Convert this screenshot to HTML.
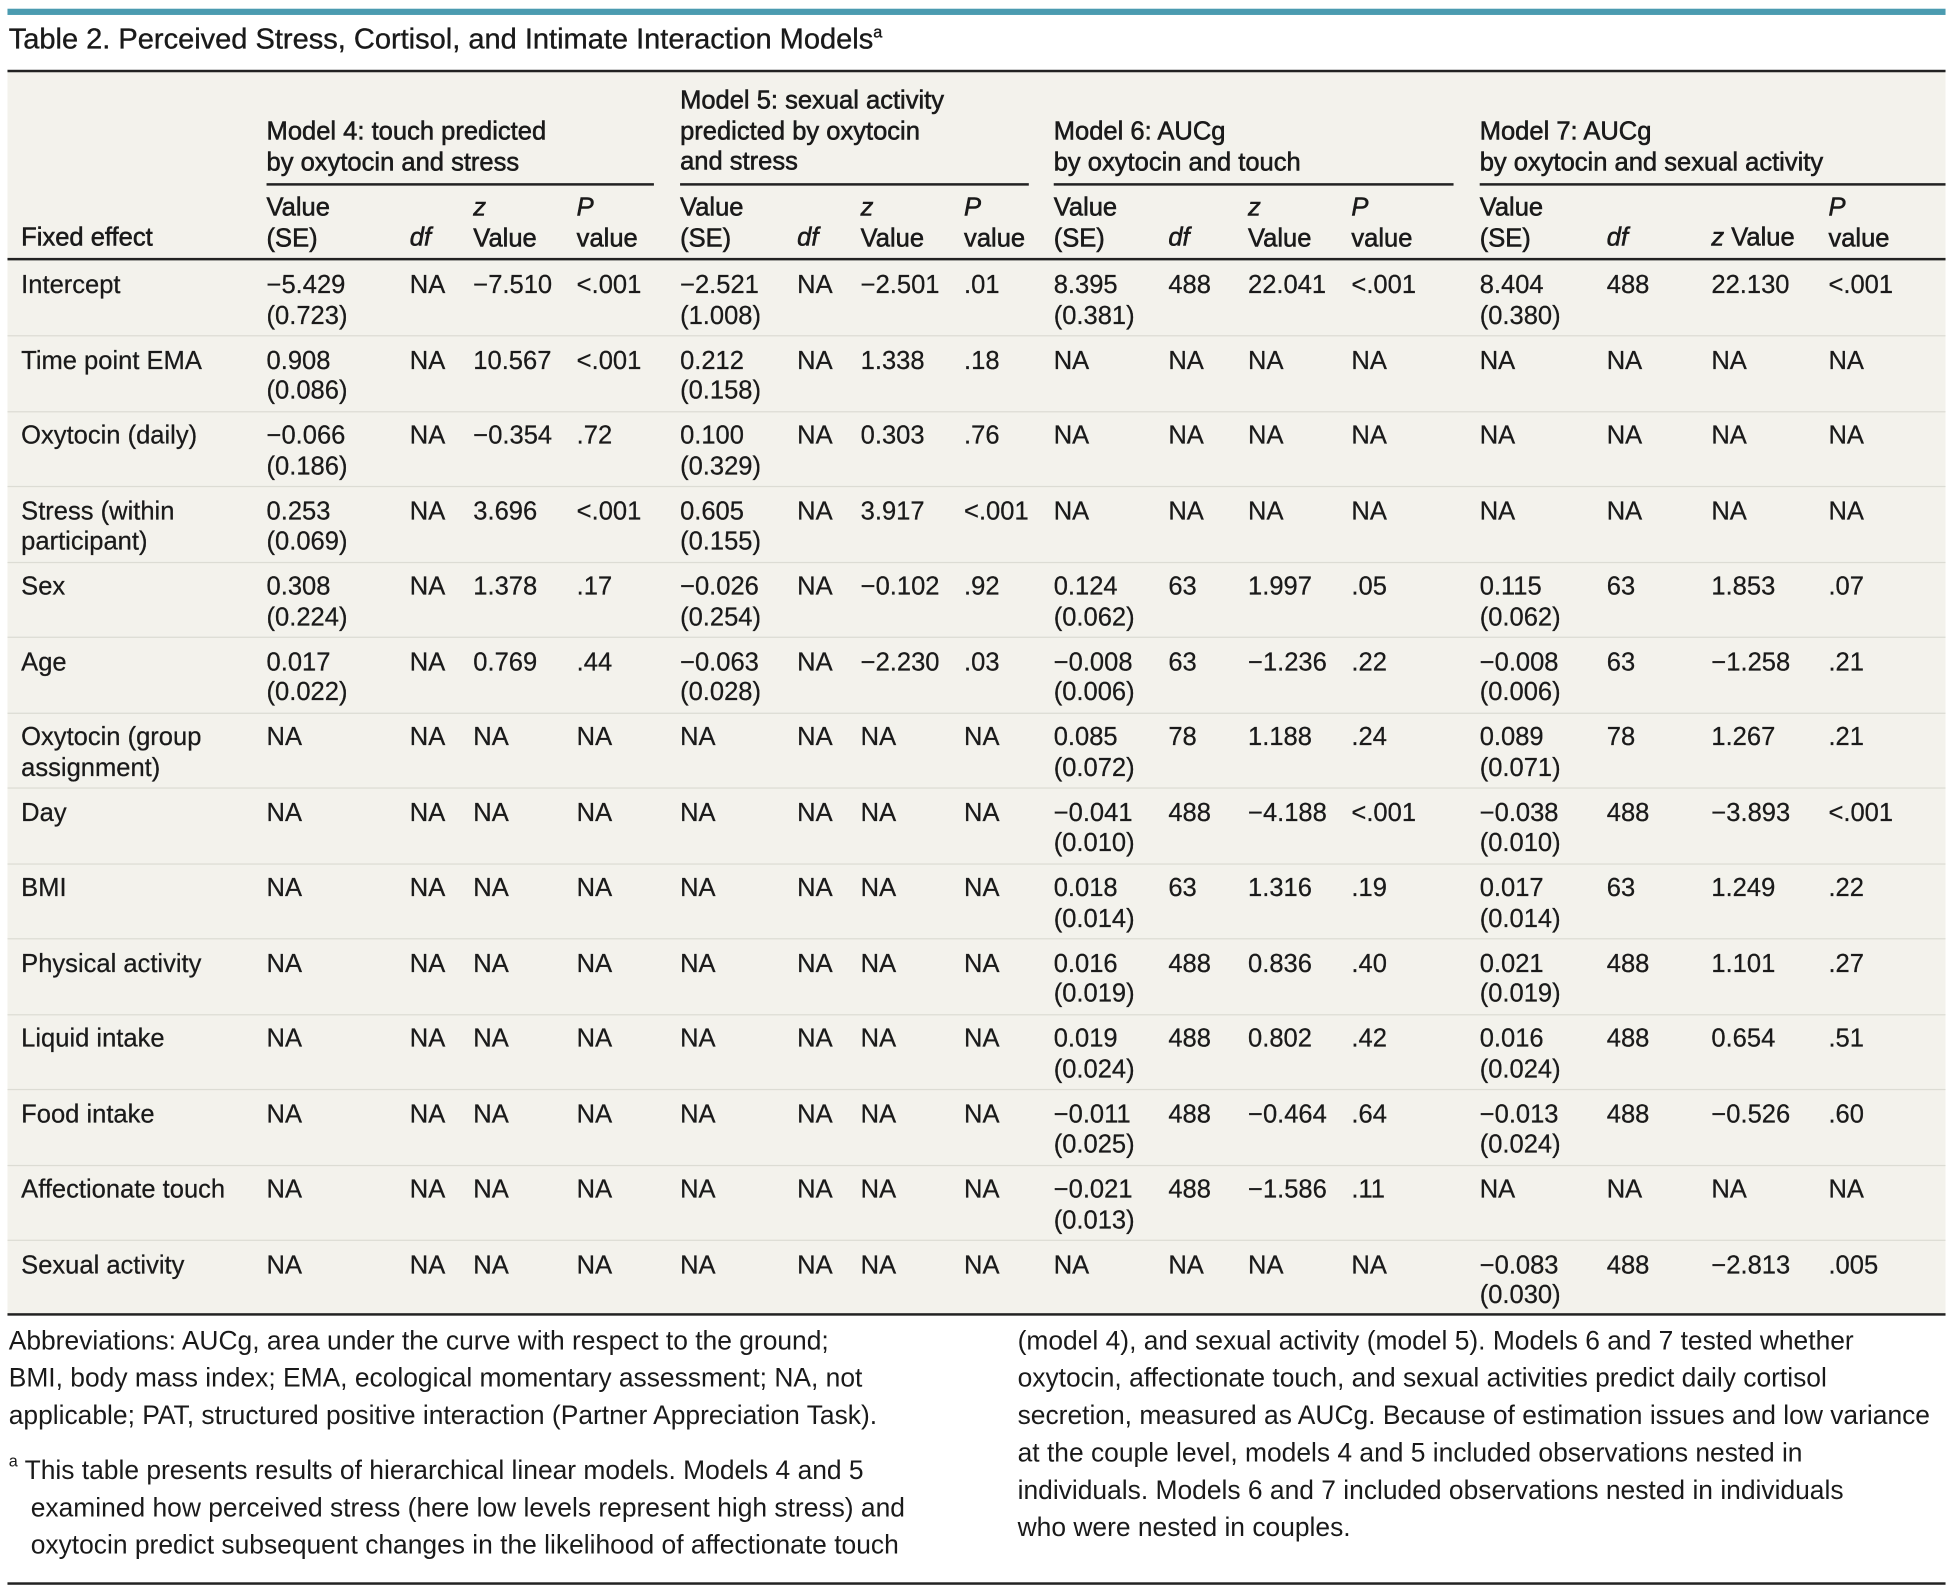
<!DOCTYPE html>
<html><head><meta charset="utf-8">
<style>
html,body{margin:0;padding:0;background:#fff;}
body{width:1953px;height:1591px;overflow:hidden;}
#w{position:absolute;left:0;top:0;width:1568px;height:1277px;transform:scale(1.24554,1.2459);transform-origin:0 0;font-family:"Liberation Sans",sans-serif;color:#1a1a1a;}
.a{position:absolute;white-space:pre;}
.bar{position:absolute;left:6px;top:7px;width:1556px;height:5px;background:#4b9bb0;}
.title{left:7px;top:18px;font-size:23.3px;-webkit-text-stroke:0.3px #1a1a1a;}
.bg{position:absolute;left:6px;top:57px;width:1556px;height:998px;background:#f3f2ec;}
.rule{position:absolute;height:2px;background:#222;}
.row{position:absolute;left:6px;width:1556px;height:60px;border-bottom:1px solid #dcdcd4;}
.row .a{top:8px;font-size:20.5px;line-height:24.5px;-webkit-text-stroke:0.2px #1a1a1a;}
.h{font-size:20.5px;line-height:24.5px;-webkit-text-stroke:0.45px #1a1a1a;}
i{font-style:italic;}
.c0{left:11px}.c1{left:208px}.c2{left:323px}.c3{left:374px}.c4{left:457px}
.c5{left:540px}.c6{left:634px}.c7{left:685px}.c8{left:768px}
.c9{left:840px}.c10{left:932px}.c11{left:996px}.c12{left:1079px}
.c13{left:1182px}.c14{left:1284px}.c15{left:1368px}.c16{left:1462px}
.fn{font-size:21.2px;line-height:30px;}
</style></head><body><div id="w">
<div class="bar"></div>
<div class="a title">Table 2. Perceived Stress, Cortisol, and Intimate Interaction Models<sup style="font-size:13px">a</sup></div>
<div class="bg"></div>
<div class="rule" style="left:6px;top:56px;width:1556px;"></div>
<div class="a h" style="left:214px;top:94px">Model 4: touch predicted
by oxytocin and stress</div>
<div class="a h" style="left:546px;top:69px">Model 5: sexual activity
predicted by oxytocin
and stress</div>
<div class="a h" style="left:846px;top:94px">Model 6: AUCg
by oxytocin and touch</div>
<div class="a h" style="left:1188px;top:94px">Model 7: AUCg
by oxytocin and sexual activity</div>
<div class="rule" style="left:214px;top:147px;width:311px;"></div>
<div class="rule" style="left:546px;top:147px;width:280px;"></div>
<div class="rule" style="left:846px;top:147px;width:321px;"></div>
<div class="rule" style="left:1188px;top:147px;width:374px;"></div>
<div class="a h" style="left:17px;top:179px">Fixed effect</div>
<div class="a h" style="left:214px;top:155px">Value
(SE)</div><div class="a h" style="left:329px;top:179px"><i>df</i></div><div class="a h" style="left:380px;top:155px"><i>z</i>
Value</div><div class="a h" style="left:463px;top:155px"><i>P</i>
value</div>
<div class="a h" style="left:546px;top:155px">Value
(SE)</div><div class="a h" style="left:640px;top:179px"><i>df</i></div><div class="a h" style="left:691px;top:155px"><i>z</i>
Value</div><div class="a h" style="left:774px;top:155px"><i>P</i>
value</div>
<div class="a h" style="left:846px;top:155px">Value
(SE)</div><div class="a h" style="left:938px;top:179px"><i>df</i></div><div class="a h" style="left:1002px;top:155px"><i>z</i>
Value</div><div class="a h" style="left:1085px;top:155px"><i>P</i>
value</div>
<div class="a h" style="left:1188px;top:155px">Value
(SE)</div><div class="a h" style="left:1290px;top:179px"><i>df</i></div><div class="a h" style="left:1374px;top:179px"><i>z</i> Value</div><div class="a h" style="left:1468px;top:155px"><i>P</i>
value</div>
<div class="rule" style="left:6px;top:207px;width:1556px;"></div>

<div class="row" style="top:209px"><div class="a c0">Intercept</div><div class="a c1">−5.429
(0.723)</div><div class="a c2">NA</div><div class="a c3">−7.510</div><div class="a c4">&lt;.001</div><div class="a c5">−2.521
(1.008)</div><div class="a c6">NA</div><div class="a c7">−2.501</div><div class="a c8">.01</div><div class="a c9">8.395
(0.381)</div><div class="a c10">488</div><div class="a c11">22.041</div><div class="a c12">&lt;.001</div><div class="a c13">8.404
(0.380)</div><div class="a c14">488</div><div class="a c15">22.130</div><div class="a c16">&lt;.001</div></div>

<div class="row" style="top:269.5px"><div class="a c0">Time point EMA</div><div class="a c1">0.908
(0.086)</div><div class="a c2">NA</div><div class="a c3">10.567</div><div class="a c4">&lt;.001</div><div class="a c5">0.212
(0.158)</div><div class="a c6">NA</div><div class="a c7">1.338</div><div class="a c8">.18</div><div class="a c9">NA</div><div class="a c10">NA</div><div class="a c11">NA</div><div class="a c12">NA</div><div class="a c13">NA</div><div class="a c14">NA</div><div class="a c15">NA</div><div class="a c16">NA</div></div>

<div class="row" style="top:330px"><div class="a c0">Oxytocin (daily)</div><div class="a c1">−0.066
(0.186)</div><div class="a c2">NA</div><div class="a c3">−0.354</div><div class="a c4">.72</div><div class="a c5">0.100
(0.329)</div><div class="a c6">NA</div><div class="a c7">0.303</div><div class="a c8">.76</div><div class="a c9">NA</div><div class="a c10">NA</div><div class="a c11">NA</div><div class="a c12">NA</div><div class="a c13">NA</div><div class="a c14">NA</div><div class="a c15">NA</div><div class="a c16">NA</div></div>

<div class="row" style="top:390.5px"><div class="a c0">Stress (within
participant)</div><div class="a c1">0.253
(0.069)</div><div class="a c2">NA</div><div class="a c3">3.696</div><div class="a c4">&lt;.001</div><div class="a c5">0.605
(0.155)</div><div class="a c6">NA</div><div class="a c7">3.917</div><div class="a c8">&lt;.001</div><div class="a c9">NA</div><div class="a c10">NA</div><div class="a c11">NA</div><div class="a c12">NA</div><div class="a c13">NA</div><div class="a c14">NA</div><div class="a c15">NA</div><div class="a c16">NA</div></div>

<div class="row" style="top:451px"><div class="a c0">Sex</div><div class="a c1">0.308
(0.224)</div><div class="a c2">NA</div><div class="a c3">1.378</div><div class="a c4">.17</div><div class="a c5">−0.026
(0.254)</div><div class="a c6">NA</div><div class="a c7">−0.102</div><div class="a c8">.92</div><div class="a c9">0.124
(0.062)</div><div class="a c10">63</div><div class="a c11">1.997</div><div class="a c12">.05</div><div class="a c13">0.115
(0.062)</div><div class="a c14">63</div><div class="a c15">1.853</div><div class="a c16">.07</div></div>

<div class="row" style="top:511.5px"><div class="a c0">Age</div><div class="a c1">0.017
(0.022)</div><div class="a c2">NA</div><div class="a c3">0.769</div><div class="a c4">.44</div><div class="a c5">−0.063
(0.028)</div><div class="a c6">NA</div><div class="a c7">−2.230</div><div class="a c8">.03</div><div class="a c9">−0.008
(0.006)</div><div class="a c10">63</div><div class="a c11">−1.236</div><div class="a c12">.22</div><div class="a c13">−0.008
(0.006)</div><div class="a c14">63</div><div class="a c15">−1.258</div><div class="a c16">.21</div></div>

<div class="row" style="top:572px"><div class="a c0">Oxytocin (group
assignment)</div><div class="a c1">NA</div><div class="a c2">NA</div><div class="a c3">NA</div><div class="a c4">NA</div><div class="a c5">NA</div><div class="a c6">NA</div><div class="a c7">NA</div><div class="a c8">NA</div><div class="a c9">0.085
(0.072)</div><div class="a c10">78</div><div class="a c11">1.188</div><div class="a c12">.24</div><div class="a c13">0.089
(0.071)</div><div class="a c14">78</div><div class="a c15">1.267</div><div class="a c16">.21</div></div>

<div class="row" style="top:632.5px"><div class="a c0">Day</div><div class="a c1">NA</div><div class="a c2">NA</div><div class="a c3">NA</div><div class="a c4">NA</div><div class="a c5">NA</div><div class="a c6">NA</div><div class="a c7">NA</div><div class="a c8">NA</div><div class="a c9">−0.041
(0.010)</div><div class="a c10">488</div><div class="a c11">−4.188</div><div class="a c12">&lt;.001</div><div class="a c13">−0.038
(0.010)</div><div class="a c14">488</div><div class="a c15">−3.893</div><div class="a c16">&lt;.001</div></div>

<div class="row" style="top:693px"><div class="a c0">BMI</div><div class="a c1">NA</div><div class="a c2">NA</div><div class="a c3">NA</div><div class="a c4">NA</div><div class="a c5">NA</div><div class="a c6">NA</div><div class="a c7">NA</div><div class="a c8">NA</div><div class="a c9">0.018
(0.014)</div><div class="a c10">63</div><div class="a c11">1.316</div><div class="a c12">.19</div><div class="a c13">0.017
(0.014)</div><div class="a c14">63</div><div class="a c15">1.249</div><div class="a c16">.22</div></div>

<div class="row" style="top:753.5px"><div class="a c0">Physical activity</div><div class="a c1">NA</div><div class="a c2">NA</div><div class="a c3">NA</div><div class="a c4">NA</div><div class="a c5">NA</div><div class="a c6">NA</div><div class="a c7">NA</div><div class="a c8">NA</div><div class="a c9">0.016
(0.019)</div><div class="a c10">488</div><div class="a c11">0.836</div><div class="a c12">.40</div><div class="a c13">0.021
(0.019)</div><div class="a c14">488</div><div class="a c15">1.101</div><div class="a c16">.27</div></div>

<div class="row" style="top:814px"><div class="a c0">Liquid intake</div><div class="a c1">NA</div><div class="a c2">NA</div><div class="a c3">NA</div><div class="a c4">NA</div><div class="a c5">NA</div><div class="a c6">NA</div><div class="a c7">NA</div><div class="a c8">NA</div><div class="a c9">0.019
(0.024)</div><div class="a c10">488</div><div class="a c11">0.802</div><div class="a c12">.42</div><div class="a c13">0.016
(0.024)</div><div class="a c14">488</div><div class="a c15">0.654</div><div class="a c16">.51</div></div>

<div class="row" style="top:874.5px"><div class="a c0">Food intake</div><div class="a c1">NA</div><div class="a c2">NA</div><div class="a c3">NA</div><div class="a c4">NA</div><div class="a c5">NA</div><div class="a c6">NA</div><div class="a c7">NA</div><div class="a c8">NA</div><div class="a c9">−0.011
(0.025)</div><div class="a c10">488</div><div class="a c11">−0.464</div><div class="a c12">.64</div><div class="a c13">−0.013
(0.024)</div><div class="a c14">488</div><div class="a c15">−0.526</div><div class="a c16">.60</div></div>

<div class="row" style="top:935px"><div class="a c0">Affectionate touch</div><div class="a c1">NA</div><div class="a c2">NA</div><div class="a c3">NA</div><div class="a c4">NA</div><div class="a c5">NA</div><div class="a c6">NA</div><div class="a c7">NA</div><div class="a c8">NA</div><div class="a c9">−0.021
(0.013)</div><div class="a c10">488</div><div class="a c11">−1.586</div><div class="a c12">.11</div><div class="a c13">NA</div><div class="a c14">NA</div><div class="a c15">NA</div><div class="a c16">NA</div></div>

<div class="row" style="top:995.5px;border-bottom:none"><div class="a c0">Sexual activity</div><div class="a c1">NA</div><div class="a c2">NA</div><div class="a c3">NA</div><div class="a c4">NA</div><div class="a c5">NA</div><div class="a c6">NA</div><div class="a c7">NA</div><div class="a c8">NA</div><div class="a c9">NA</div><div class="a c10">NA</div><div class="a c11">NA</div><div class="a c12">NA</div><div class="a c13">−0.083
(0.030)</div><div class="a c14">488</div><div class="a c15">−2.813</div><div class="a c16">.005</div></div>

<div class="rule" style="left:6px;top:1054px;width:1556px;"></div>

<div class="a fn" style="left:7px;top:1062px">Abbreviations: AUCg, area under the curve with respect to the ground;
BMI, body mass index; EMA, ecological momentary assessment; NA, not
applicable; PAT, structured positive interaction (Partner Appreciation Task).</div>
<div class="a fn" style="left:7px;top:1160px"><sup style="font-size:13px;position:relative;top:-2px">a</sup> This table presents results of hierarchical linear models. Models 4 and 5
   examined how perceived stress (here low levels represent high stress) and
   oxytocin predict subsequent changes in the likelihood of affectionate touch</div>
<div class="a fn" style="left:817px;top:1062px">(model 4), and sexual activity (model 5). Models 6 and 7 tested whether
oxytocin, affectionate touch, and sexual activities predict daily cortisol
secretion, measured as AUCg. Because of estimation issues and low variance
at the couple level, models 4 and 5 included observations nested in
individuals. Models 6 and 7 included observations nested in individuals
who were nested in couples.</div>
<div class="rule" style="left:6px;top:1270px;width:1556px;"></div>
</div></body></html>
